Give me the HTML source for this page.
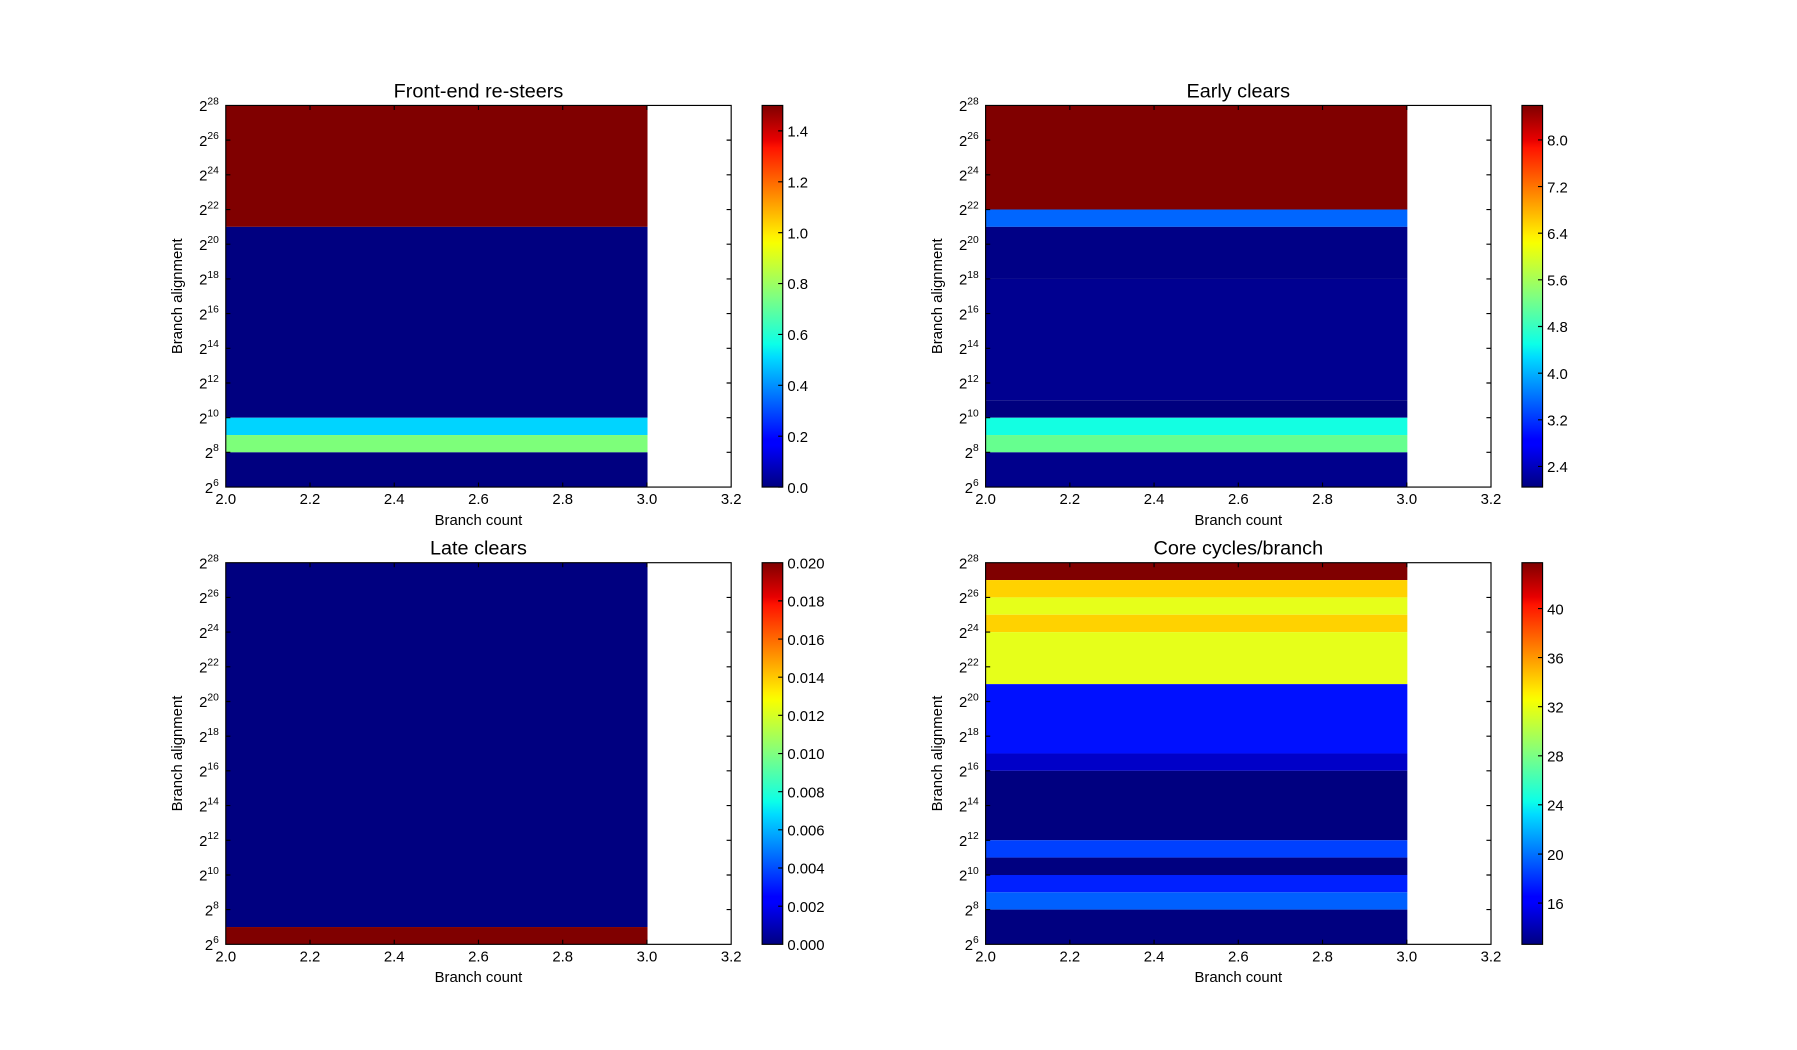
<!DOCTYPE html>
<html><head><meta charset="utf-8"><style>
html,body{margin:0;padding:0;background:#fff;}
svg{display:block;}
text{font-family:"Liberation Sans",sans-serif;fill:#000;}
.t{font-size:13px;}
.ti{font-size:17.3px;}
.yl{font-size:13px;}
</style></head><body>
<svg width="1797" height="1050" viewBox="0 0 1568 916.2" xmlns="http://www.w3.org/2000/svg">
<defs>
<linearGradient id="jet" x1="0" y1="1" x2="0" y2="0">
<stop offset="0" stop-color="#000080"/>
<stop offset="0.11" stop-color="#0000ff"/>
<stop offset="0.125" stop-color="#0000ff"/>
<stop offset="0.34" stop-color="#00dbff"/>
<stop offset="0.375" stop-color="#0cffe8"/>
<stop offset="0.5" stop-color="#80ff80"/>
<stop offset="0.64" stop-color="#f8ff00"/>
<stop offset="0.66" stop-color="#ffef00"/>
<stop offset="0.89" stop-color="#ff1300"/>
<stop offset="0.91" stop-color="#e80000"/>
<stop offset="1" stop-color="#800000"/>
</linearGradient>
<g id="axes">
<rect x="0" y="0" width="441" height="333" fill="none" stroke="#000" stroke-width="1"/>
<path d="M0,30.27h4M0,60.55h4M0,90.82h4M0,121.1h4M0,151.4h4M0,181.6h4M0,211.9h4M0,242.2h4M0,272.5h4M0,302.7h4
M441,30.27h-4M441,60.55h-4M441,90.82h-4M441,121.1h-4M441,151.4h-4M441,181.6h-4M441,211.9h-4M441,242.2h-4M441,272.5h-4M441,302.7h-4
M73.5,333v-4M147,333v-4M220.5,333v-4M294,333v-4M367.5,333v-4M73.5,0v4M147,0v4M220.5,0v4M294,0v4M367.5,0v4" stroke="#000" stroke-width="1"/>
<g class="t" text-anchor="middle">
<text x="0" y="348">2.0</text><text x="73.5" y="348">2.2</text><text x="147" y="348">2.4</text><text x="220.5" y="348">2.6</text><text x="294" y="348">2.8</text><text x="367.5" y="348">3.0</text><text x="441" y="348">3.2</text>
</g>
<text class="t" x="220.5" y="366" text-anchor="middle">Branch count</text>
<text class="yl" transform="translate(-38,166.5) rotate(-90)" text-anchor="middle">Branch alignment</text>
<g class="t" text-anchor="end">
<text x="-6" y="5">2<tspan dy="-6" font-size="9">28</tspan></text>
<text x="-6" y="35.3">2<tspan dy="-6" font-size="9">26</tspan></text>
<text x="-6" y="65.5">2<tspan dy="-6" font-size="9">24</tspan></text>
<text x="-6" y="95.8">2<tspan dy="-6" font-size="9">22</tspan></text>
<text x="-6" y="126.1">2<tspan dy="-6" font-size="9">20</tspan></text>
<text x="-6" y="156.4">2<tspan dy="-6" font-size="9">18</tspan></text>
<text x="-6" y="186.6">2<tspan dy="-6" font-size="9">16</tspan></text>
<text x="-6" y="216.9">2<tspan dy="-6" font-size="9">14</tspan></text>
<text x="-6" y="247.2">2<tspan dy="-6" font-size="9">12</tspan></text>
<text x="-6" y="277.5">2<tspan dy="-6" font-size="9">10</tspan></text>
<text x="-6" y="307.7">2<tspan dy="-6" font-size="9">8</tspan></text>
<text x="-6" y="338">2<tspan dy="-6" font-size="9">6</tspan></text>
</g>
<rect x="468" y="0" width="18" height="333" fill="url(#jet)" stroke="#000" stroke-width="1"/>
</g>
</defs>

<!-- Panel 1 -->
<g transform="translate(197,92)">
<rect x="0" y="0" width="368" height="105.95" fill="#800000"/>
<rect x="0" y="105.95" width="368" height="166.55" fill="#000080"/>
<rect x="0" y="272.5" width="368" height="15.1" fill="#00d4ff"/>
<rect x="0" y="287.6" width="368" height="15.1" fill="#7dff7a"/>
<rect x="0" y="302.7" width="368" height="30.3" fill="#000080"/>
<use href="#axes"/>
<text class="ti" x="220.5" y="-7" text-anchor="middle">Front-end re-steers</text>
<path d="M486,333h-4M486,288.6h-4M486,244.2h-4M486,199.8h-4M486,155.4h-4M486,111h-4M486,66.6h-4M486,22.2h-4" stroke="#000"/>
<g class="t"><text x="490" y="338">0.0</text><text x="490" y="293.6">0.2</text><text x="490" y="249.2">0.4</text><text x="490" y="204.8">0.6</text><text x="490" y="160.4">0.8</text><text x="490" y="116">1.0</text><text x="490" y="71.6">1.2</text><text x="490" y="27.2">1.4</text></g>
</g>

<!-- Panel 2 -->
<g transform="translate(860,92)">
<rect x="0" y="0" width="368" height="90.82" fill="#800000"/>
<rect x="0" y="90.82" width="368" height="15.13" fill="#0066ff"/>
<rect x="0" y="105.95" width="368" height="45.45" fill="#000086"/>
<rect x="0" y="151.4" width="368" height="105.9" fill="#000090"/>
<rect x="0" y="257.3" width="368" height="15.2" fill="#00007f"/>
<rect x="0" y="272.5" width="368" height="15.1" fill="#13ffe2"/>
<rect x="0" y="287.6" width="368" height="15.1" fill="#66ff8f"/>
<rect x="0" y="302.7" width="368" height="30.3" fill="#00008c"/>
<use href="#axes"/>
<text class="ti" x="220.5" y="-7" text-anchor="middle">Early clears</text>
<path d="M486,315h-4M486,274.3h-4M486,233.6h-4M486,192.9h-4M486,152.2h-4M486,111.5h-4M486,70.8h-4M486,30.1h-4" stroke="#000"/>
<g class="t"><text x="490" y="320">2.4</text><text x="490" y="279.3">3.2</text><text x="490" y="238.6">4.0</text><text x="490" y="197.9">4.8</text><text x="490" y="157.2">5.6</text><text x="490" y="116.5">6.4</text><text x="490" y="75.8">7.2</text><text x="490" y="35.1">8.0</text></g>
</g>

<!-- Panel 3 -->
<g transform="translate(197,491)">
<rect x="0" y="0" width="368" height="317.9" fill="#000080"/>
<rect x="0" y="317.9" width="368" height="15.1" fill="#800000"/>
<use href="#axes"/>
<text class="ti" x="220.5" y="-7" text-anchor="middle">Late clears</text>
<path d="M486,299.7h-4M486,266.4h-4M486,233.1h-4M486,199.8h-4M486,166.5h-4M486,133.2h-4M486,99.9h-4M486,66.6h-4M486,33.3h-4" stroke="#000"/>
<g class="t"><text x="490" y="338">0.000</text><text x="490" y="304.7">0.002</text><text x="490" y="271.4">0.004</text><text x="490" y="238.1">0.006</text><text x="490" y="204.8">0.008</text><text x="490" y="171.5">0.010</text><text x="490" y="138.2">0.012</text><text x="490" y="104.9">0.014</text><text x="490" y="71.6">0.016</text><text x="490" y="38.3">0.018</text><text x="490" y="5">0.020</text></g>
</g>

<!-- Panel 4 -->
<g transform="translate(860,491)">
<rect x="0" y="0" width="368" height="15.14" fill="#800000"/>
<rect x="0" y="15.14" width="368" height="15.13" fill="#ffd200"/>
<rect x="0" y="30.27" width="368" height="15.14" fill="#e6ff1a"/>
<rect x="0" y="45.41" width="368" height="15.14" fill="#ffd200"/>
<rect x="0" y="60.55" width="368" height="45.4" fill="#e6ff1a"/>
<rect x="0" y="105.95" width="368" height="60.55" fill="#0010ff"/>
<rect x="0" y="166.5" width="368" height="15.1" fill="#0000c8"/>
<rect x="0" y="181.6" width="368" height="60.6" fill="#000080"/>
<rect x="0" y="242.2" width="368" height="15.1" fill="#0040ff"/>
<rect x="0" y="257.3" width="368" height="15.2" fill="#000080"/>
<rect x="0" y="272.5" width="368" height="15.1" fill="#0020ff"/>
<rect x="0" y="287.6" width="368" height="15.1" fill="#0060ff"/>
<rect x="0" y="302.7" width="368" height="30.3" fill="#000080"/>
<use href="#axes"/>
<text class="ti" x="220.5" y="-7" text-anchor="middle">Core cycles/branch</text>
<path d="M486,297h-4M486,254.2h-4M486,211.3h-4M486,168.5h-4M486,125.6h-4M486,82.8h-4M486,40h-4" stroke="#000"/>
<g class="t"><text x="490" y="302">16</text><text x="490" y="259.2">20</text><text x="490" y="216.3">24</text><text x="490" y="173.5">28</text><text x="490" y="130.6">32</text><text x="490" y="87.8">36</text><text x="490" y="45">40</text></g>
</g>
</svg>
</body></html>
